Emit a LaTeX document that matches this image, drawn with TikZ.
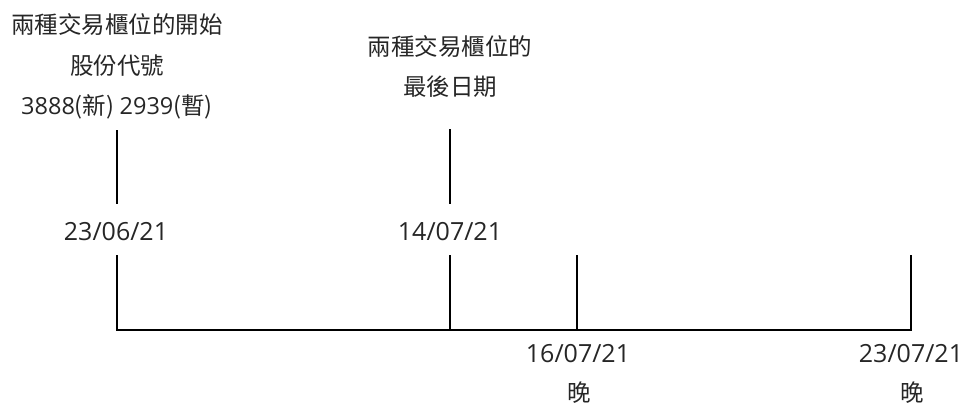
\documentclass[tikz,border=0pt]{standalone}
\usepackage{fontspec}
\setmainfont{Noto Sans CJK TC}
\newfontfamily\latinfont{Open Sans}
\begin{document}
\begin{tikzpicture}[x=1pt,y=-1pt,
  lbl/.style={inner sep=0pt,font=\fontsize{23.5}{28}\selectfont,text=black!85},
  dlbl/.style={lbl,font=\fontsize{25}{30}\latinfont},
  ln/.style={line width=2pt,black}]
\useasboundingbox (0,0) rectangle (966,405);
% top-left labels
\node[lbl] (s1) at (117,25) {兩種交易櫃位的開始};
\node[lbl] (s2) at (117,66) {股份代號};
\node[lbl] (s3) at (117,107) {{\latinfont 3888}(新) {\latinfont 2939}(暫)};
% middle labels
\node[lbl] (e1) at (450,47) {兩種交易櫃位的};
\node[lbl] (e2) at (450,87) {最後日期};
% dates
\node[dlbl] (d1) at (116,232) {23/06/21};
\node[dlbl] (d2) at (450,232) {14/07/21};
\node[dlbl] (d3) at (578,354) {16/07/21};
\node[dlbl] (d4) at (911,354) {23/07/21};
\node[lbl] (n3) at (579,393) {晚};
\node[lbl] (n4) at (912,393) {晚};
% coordinates
\coordinate (a1) at (117,130);
\coordinate (a2) at (117,204);
\coordinate (b1) at (450,129);
\coordinate (b2) at (450,204);
\coordinate (c1) at (117,255);
\coordinate (c2) at (117,330);
\coordinate (f1) at (450,255);
\coordinate (f2) at (450,330);
\coordinate (g1) at (577,255);
\coordinate (g2) at (577,330);
\coordinate (h1) at (911,255);
\coordinate (h2) at (911,330);
\draw[ln] (a1) -- (a2);
\draw[ln] (b1) -- (b2);
\draw[ln] (c1) -- (c2) -- (h2) -- (h1);
\draw[ln] (f1) -- (f2);
\draw[ln] (g1) -- (g2);
\end{tikzpicture}
\end{document}
